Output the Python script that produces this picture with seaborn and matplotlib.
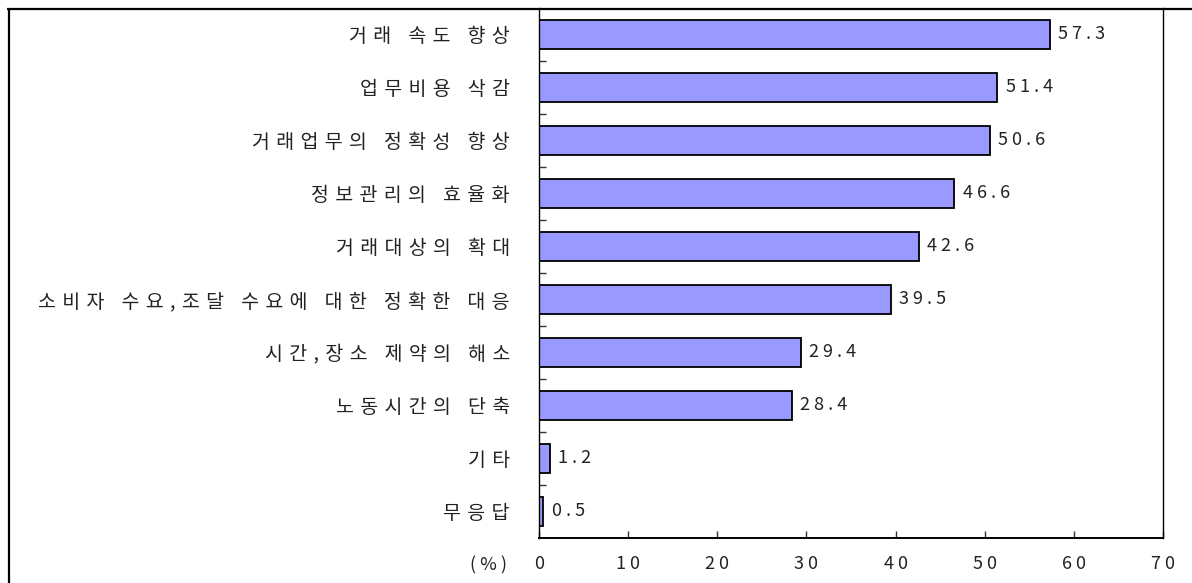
import numpy as np
import pandas as pd
import matplotlib
matplotlib.use("Agg")
import matplotlib.pyplot as plt
from matplotlib.lines import Line2D
import seaborn as sns

categories = [
    "거래 속도 향상",
    "업무비용 삭감",
    "거래업무의 정확성 향상",
    "정보관리의 효율화",
    "거래대상의 확대",
    "소비자 수요,조달 수요에 대한 정확한 대응",
    "시간,장소 제약의 해소",
    "노동시간의 단축",
    "기타",
    "무응답",
]
values = [57.3, 51.4, 50.6, 46.6, 42.6, 39.5, 29.4, 28.4, 1.2, 0.5]
x_ticks = [0, 10, 20, 30, 40, 50, 60, 70]
unit_label = "(%)"


def spaced(s, sep=" "):
    return sep.join(list(s))


sns.set_theme(style="white")
plt.rcParams["font.family"] = ["Noto Sans CJK KR", "DejaVu Sans"]

df = pd.DataFrame({"항목": categories, "비율": values})

W, H = 1192, 583
fig = plt.figure(figsize=(W / 100, H / 100), dpi=100)
fig.patch.set_facecolor("white")
ax = fig.add_axes([539 / W, 1 - 538 / H, (1163 - 539) / W, (538 - 8) / H])

sns.barplot(data=df, y="항목", x="비율", orient="h", color="#9999FF",
            saturation=1, edgecolor="black", linewidth=1.3, width=0.53, ax=ax)

ax.set_xlim(0, 70)
ax.set_ylim(9.5, -0.5)
ax.set_xlabel("")
ax.set_ylabel("")

num_fs = 13
lab_fs = 14

ax.set_xticks(x_ticks)
ax.set_xticklabels([spaced(str(t)) for t in x_ticks], fontsize=num_fs, color="#222222")
ax.tick_params(axis="x", direction="in", length=5, width=1, color="#333333", pad=12, bottom=True)

ax.set_yticks(range(len(categories)))
ax.set_yticklabels([spaced(c, " \u200a") for c in categories], fontsize=lab_fs, color="#222222")
ax.tick_params(axis="y", which="major", length=0, pad=21)
ax.set_yticks(np.arange(0.5, len(categories) - 1, 1), minor=True)
ax.tick_params(axis="y", which="minor", direction="in", length=5, width=1, color="#333333", left=True)

for name, sp in ax.spines.items():
    sp.set_color("black")
ax.spines["top"].set_visible(False)
ax.spines["left"].set_linewidth(1.0)
ax.spines["right"].set_linewidth(1.0)
ax.spines["bottom"].set_linewidth(1.4)

ax.bar_label(ax.containers[0], labels=[spaced(f"{v}") for v in values],
             padding=6, fontsize=num_fs, color="#222222")

ax.annotate(spaced(unit_label), xy=(0, 0), xycoords="axes fraction",
            xytext=(-50, -27), textcoords="offset pixels",
            ha="center", va="center", fontsize=num_fs, color="#222222")

# outer frame (left and top edges visible)
fig.add_artist(Line2D([8.5 / W, 8.5 / W], [0, 1 - 8.5 / H], transform=fig.transFigure,
                      color="black", lw=1.6, solid_capstyle="butt"))
fig.add_artist(Line2D([7.5 / W, 1], [1 - 8.5 / H, 1 - 8.5 / H], transform=fig.transFigure,
                      color="black", lw=1.6, solid_capstyle="butt"))

fig.savefig("out.png", dpi=100, facecolor="white")
